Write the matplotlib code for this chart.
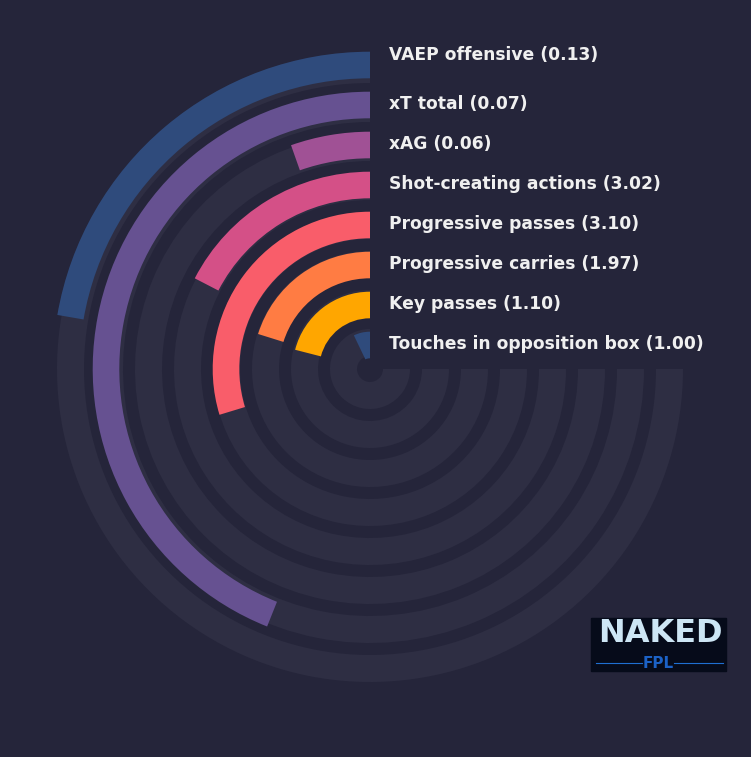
import numpy as np
import matplotlib.pyplot as plt
from matplotlib.patches import Rectangle
from matplotlib.lines import Line2D

labels = ["VAEP offensive", "xT total", "xAG", "Shot-creating actions",
          "Progressive passes", "Progressive carries", "Key passes",
          "Touches in opposition box"]
values = [0.13, 0.07, 0.06, 3.02, 3.10, 1.97, 1.10, 1.00]
pct = [29.7, 58.6, 7.2, 23.2, 39.6, 26.9, 28.0, 9.5]
colors = ["#2f4b7c", "#665191", "#a05195", "#d45087",
          "#f95d6a", "#ff7c43", "#ffa600", "#2f4b7c"]

bg = "#25253a"
track = "#2e2e43"
W, H = 751, 757
max_angle = 1.5 * np.pi

fig = plt.figure(figsize=(W / 100, H / 100), dpi=100, facecolor=bg)
ax = fig.add_axes([52 / W, 70 / H, 636 / W, 636 / H], projection="polar")
ax.set_facecolor(bg)

n = len(labels)
k = np.arange(n)
pos = 7.6 - k                      # bar rings, outermost first
track_pos = (299.5 - 39 * k) / 40  # tracks sit a touch further in

# grey tracks
ax.barh(track_pos, [max_angle] * n, left=0, height=0.675, color=track, zorder=1)
# the bars themselves
ax.barh(pos, np.array(pct) / 100 * max_angle, left=0, height=0.665,
        color=colors, zorder=3)

ax.set_theta_zero_location("N")
ax.set_theta_direction(1)
ax.set_ylim(0, 7.95)
ax.set_axis_off()

for i in range(n):
    dy = 10 if i == 0 else 1
    ax.annotate(f"{labels[i]} ({values[i]:.2f})", xy=(0, pos[i]),
                xytext=(19, dy), textcoords="offset pixels",
                color="#f0f0f0", fontsize=12.3, fontweight="bold",
                va="center", ha="left", zorder=5)

# logo box
fig.add_artist(Rectangle((591 / W, 1 - 671 / H), 135 / W, 53 / H,
                         transform=fig.transFigure, color="#060b1a"))
fig.text(660 / W, 1 - 634 / H, "NAKED", color="#cde6f5", fontsize=23,
         fontweight="bold", ha="center", va="center")
fig.text(658 / W, 1 - 663 / H, "FPL", color="#1c62c6", fontsize=11,
         fontweight="bold", ha="center", va="center")
fig.add_artist(Line2D([596 / W, 642 / W], [1 - 663 / H] * 2,
                      transform=fig.transFigure, color="#1f6fd1", lw=0.8))
fig.add_artist(Line2D([674 / W, 723 / W], [1 - 663 / H] * 2,
                      transform=fig.transFigure, color="#1f6fd1", lw=0.8))

fig.savefig("out.png", dpi=100, facecolor=bg)
